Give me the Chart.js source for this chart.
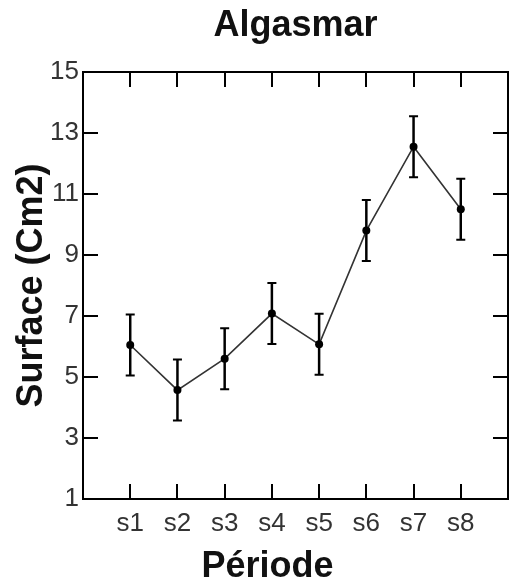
<!DOCTYPE html>
<html>
<head>
<meta charset="utf-8">
<title>Algasmar</title>
<script src="https://cdn.jsdelivr.net/npm/chart.js@4.4.1/dist/chart.umd.min.js"></script>
<style>
  html, body { margin: 0; padding: 0; background: #fff; }
  canvas { display: block; }
</style>
</head>
<body>
<canvas id="algasmar" width="512" height="586"></canvas>
<script>
// surface moyenne par période, avec écart (barres d'erreur)
var periodes = ['s1', 's2', 's3', 's4', 's5', 's6', 's7', 's8'];
var surface = [6.05, 4.57, 5.6, 7.08, 6.07, 9.8, 12.55, 10.5];
var erreur = [1, 1, 1, 1, 1, 1, 1, 1];
var yTicks = [1, 3, 5, 7, 9, 11, 13, 15];

var police = "'Liberation Sans', Arial, sans-serif";

var points = surface.map(function (v, i) {
    return {x: i + 1, y: v};
});

// only keep the period positions 1..8 on the x axes
function garderPeriodes(scale) {
    scale.ticks = periodes.map(function (p, i) {
        return {value: i + 1};
    });
}

function garderY(scale) {
    scale.ticks = yTicks.map(function (v) {
        return {value: v};
    });
}

var axeX = {
    type: 'linear',
    min: 0,
    max: 9,
    afterBuildTicks: garderPeriodes,
    border: {display: true, color: '#000', width: 2},
    grid: {drawOnChartArea: false, drawTicks: true, tickLength: -15, color: '#000', lineWidth: 2}
};

var axeY = {
    type: 'linear',
    min: 1,
    max: 15,
    afterBuildTicks: garderY,
    border: {display: true, color: '#000', width: 2},
    grid: {drawOnChartArea: false, drawTicks: true, tickLength: -15, color: '#000', lineWidth: 2}
};

// error bars drawn from the y scale, behind the points
var barresErreur = {
    id: 'barresErreur',
    beforeDatasetsDraw: function (chart) {
        var ctx = chart.ctx;
        var sx = chart.scales.x, sy = chart.scales.y;
        ctx.save();
        ctx.strokeStyle = '#000';
        ctx.lineCap = 'butt';
        surface.forEach(function (v, i) {
            var px = sx.getPixelForValue(i + 1);
            var haut = sy.getPixelForValue(v + erreur[i]);
            var bas = sy.getPixelForValue(v - erreur[i]);
            ctx.lineWidth = 2.5;
            ctx.beginPath();
            ctx.moveTo(px, haut);
            ctx.lineTo(px, bas);
            ctx.stroke();
            ctx.lineWidth = 2;
            ctx.beginPath();
            ctx.moveTo(px - 4.5, haut);
            ctx.lineTo(px + 4.5, haut);
            ctx.moveTo(px - 4.5, bas);
            ctx.lineTo(px + 4.5, bas);
            ctx.stroke();
        });
        ctx.restore();
    }
};

// x axis title, sits a little left of the plot centre
var titreX = {
    id: 'titreX',
    afterDraw: function (chart) {
        var ctx = chart.ctx;
        var a = chart.chartArea;
        ctx.save();
        ctx.font = 'bold 36px ' + police;
        ctx.fillStyle = '#111';
        ctx.textAlign = 'center';
        ctx.textBaseline = 'alphabetic';
        ctx.fillText('Période', (a.left + a.right) / 2 - 28, 577);
        ctx.restore();
    }
};

var ctx = document.getElementById('algasmar').getContext('2d');
var chartAlgasmar = new Chart(ctx, {
    type: 'line',
    data: {
        datasets: [{
            label: 'Surface',
            data: points,
            borderColor: '#333',
            borderWidth: 1.6,
            pointRadius: 4,
            pointBackgroundColor: '#000',
            pointBorderColor: '#000',
            pointBorderWidth: 0,
            tension: 0
        }]
    },
    options: {
        responsive: false,
        animation: false,
        layout: {padding: {top: 0, right: 2, bottom: 0, left: 0}},
        plugins: {
            legend: {display: false},
            tooltip: {enabled: false},
            title: {
                display: true,
                text: 'Algasmar',
                fullSize: false,
                color: '#111',
                font: {family: police, size: 36, weight: 'bold', lineHeight: 1.2},
                padding: {top: 4, bottom: 24.8}
            }
        },
        scales: {
            x: Object.assign({}, axeX, {
                position: 'bottom',
                afterFit: function (s) { s.height = 87; },
                ticks: {
                    color: '#333',
                    padding: 24,
                    maxRotation: 0,
                    autoSkip: false,
                    font: {family: police, size: 26},
                    callback: function (v) { return periodes[v - 1]; }
                }
            }),
            x2: Object.assign({}, axeX, {
                position: 'top',
                afterFit: function (s) { s.height = 0; },
                ticks: {display: false}
            }),
            y: Object.assign({}, axeY, {
                position: 'left',
                afterFit: function (s) { s.width = 83; },
                ticks: {
                    color: '#333',
                    padding: 19,
                    autoSkip: false,
                    font: {family: police, size: 26}
                },
                title: {
                    display: true,
                    text: 'Surface (Cm2)',
                    color: '#111',
                    font: {family: police, size: 36, weight: 'bold', lineHeight: 1.2},
                    padding: {top: 10, bottom: 0}
                }
            }),
            y2: Object.assign({}, axeY, {
                position: 'right',
                afterFit: function (s) { s.width = 0; },
                ticks: {display: false}
            })
        }
    },
    plugins: [barresErreur, titreX]
});
</script>
</body>
</html>
